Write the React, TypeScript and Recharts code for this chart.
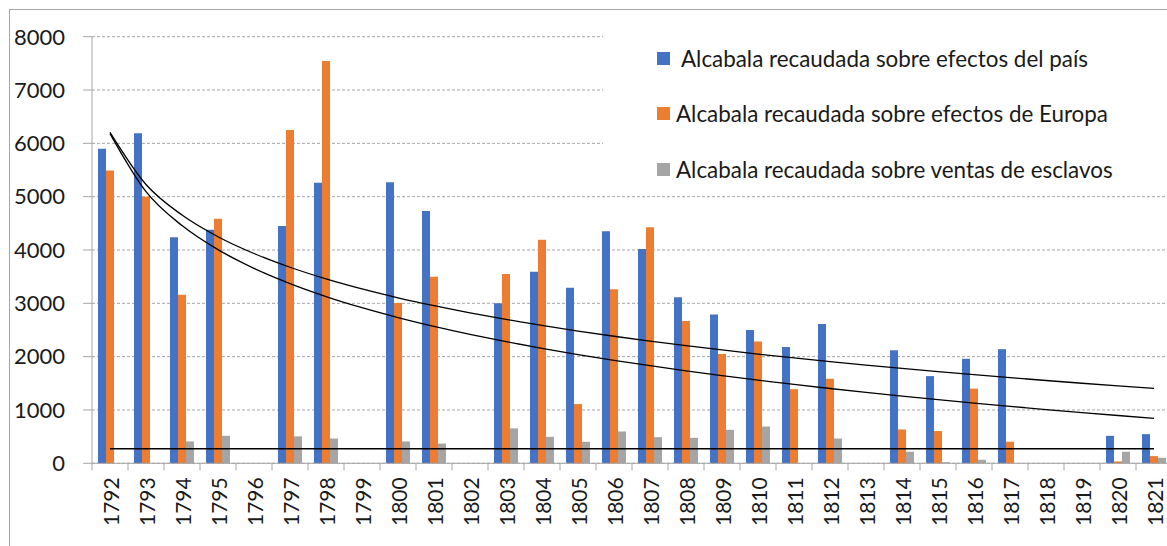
import React from 'react';
import { ComposedChart, Bar, Line, XAxis, YAxis, CartesianGrid } from 'recharts';

const years = ['1792','1793','1794','1795','1796','1797','1798','1799','1800','1801','1802','1803','1804','1805','1806','1807','1808','1809','1810','1811','1812','1813','1814','1815','1816','1817','1818','1819','1820','1821'];
const pais = [5900, 6190, 4240, 4380, 0, 4450, 5260, 0, 5270, 4730, 0, 3000, 3590, 3290, 4350, 4020, 3115, 2790, 2500, 2180, 2610, 0, 2120, 1635, 1960, 2140, 0, 0, 515, 547];
const europa = [5490, 5000, 3160, 4585, 0, 6250, 7545, 0, 3005, 3500, 0, 3550, 4190, 1110, 3265, 4425, 2670, 2050, 2285, 1390, 1585, 0, 635, 605, 1400, 405, 0, 0, 35, 135];
const esclavos = [0, 0, 410, 515, 0, 505, 465, 0, 410, 370, 0, 655, 497, 403, 597, 490, 478, 628, 690, 0, 465, 0, 216, 20, 66, 0, 0, 0, 216, 103];
const seriesNames = [' Alcabala recaudada sobre efectos del país', 'Alcabala recaudada sobre efectos de Europa', 'Alcabala recaudada sobre ventas de esclavos'];
const seriesColors = ['#4472C4', '#ED7D31', '#A5A5A5'];
const yTicks = [0, 1000, 2000, 3000, 4000, 5000, 6000, 7000, 8000];

// Trendlines derived from the data (blanks counted as zero)
function fit(xs: number[], ys: number[]) {
  const n = xs.length;
  const mx = xs.reduce((a, b) => a + b, 0) / n;
  const my = ys.reduce((a, b) => a + b, 0) / n;
  let sxy = 0, sxx = 0;
  for (let i = 0; i < n; i++) { sxy += (xs[i] - mx) * (ys[i] - my); sxx += (xs[i] - mx) ** 2; }
  const slope = sxy / sxx;
  return { slope, intercept: my - slope * mx };
}
const idx = years.map((_, i) => i + 1);
const logIdx = idx.map((v) => Math.log(v));
const fPais = fit(logIdx, pais);
const fEuropa = fit(logIdx, europa);
const meanEsclavos = esclavos.reduce((a, b) => a + b, 0) / esclavos.length;

const data = years.map((year, i) => ({
  year,
  pais: pais[i],
  europa: europa[i],
  esclavos: esclavos[i],
  trendPais: fPais.intercept + fPais.slope * logIdx[i],
  trendEuropa: fEuropa.intercept + fEuropa.slope * logIdx[i],
  trendEsclavos: meanEsclavos,
}));

const CHART_W = 1164;
const CHART_H = 546;
const Y_AXIS_W = 84;
const PLOT_W = CHART_W - Y_AXIS_W;
const BAND = PLOT_W / years.length;
const GREY = '#a6a6a6';
const FONT = 'Lato, "Open Sans", sans-serif';

function XTick(props: any) {
  const { x, y, payload, index } = props;
  const ty = y + 14;
  return (
    <g>
      <line x1={x - BAND / 2} y1={y} x2={x - BAND / 2} y2={y + 7} stroke={GREY} strokeWidth={1} />
      {index === years.length - 1 && (
        <line x1={x + BAND / 2} y1={y} x2={x + BAND / 2} y2={y + 7} stroke={GREY} strokeWidth={1} />
      )}
      <text
        x={x + 1}
        y={ty}
        transform={`rotate(-90 ${x + 1} ${ty})`}
        textAnchor="end"
        dominantBaseline="central"
        fontSize={21}
        fontFamily={FONT}
        fill="#1a1a1a"
      >
        {payload.value}
      </text>
    </g>
  );
}

export default function App() {
  return (
    <div style={{ position: 'fixed', left: 8, top: 8, width: 1159, height: 538, overflow: 'hidden', background: '#fff' }}>
      <div style={{ position: 'absolute', left: 1, top: 1, right: 0, bottom: 0, borderTop: `1px solid ${GREY}`, borderLeft: `1px solid ${GREY}` }} />
      <div style={{ position: 'absolute', left: 0, top: 0 }}>
        <ComposedChart
          width={CHART_W}
          height={CHART_H}
          data={data}
          margin={{ top: 28.7, right: 0, left: 0, bottom: 0 }}
          barGap={0}
          barSize={8}
        >
          <CartesianGrid vertical={false} stroke={GREY} strokeDasharray="3 2" />
          <XAxis
            dataKey="year"
            interval={0}
            height={CHART_H - 455.3}
            axisLine={{ stroke: GREY }}
            tickLine={false}
            tickSize={0}
            tickMargin={0}
            tick={<XTick />}
          />
          <YAxis
            width={Y_AXIS_W}
            domain={[0, 8000]}
            ticks={yTicks}
            interval={0}
            axisLine={{ stroke: GREY }}
            tickLine={{ stroke: GREY }}
            tickSize={9}
            tickMargin={18}
            tick={{ fontSize: 22, fontFamily: FONT, fill: '#1a1a1a' }}
          />
          <Bar dataKey="pais" name={seriesNames[0]} fill={seriesColors[0]} isAnimationActive={false} />
          <Bar dataKey="europa" name={seriesNames[1]} fill={seriesColors[1]} isAnimationActive={false} />
          <Bar dataKey="esclavos" name={seriesNames[2]} fill={seriesColors[2]} isAnimationActive={false} />
          <Line dataKey="trendPais" type="monotone" stroke="#000" strokeWidth={1.3} dot={false} activeDot={false} isAnimationActive={false} legendType="none" />
          <Line dataKey="trendEuropa" type="monotone" stroke="#000" strokeWidth={1.3} dot={false} activeDot={false} isAnimationActive={false} legendType="none" />
          <Line dataKey="trendEsclavos" type="linear" stroke="#000" strokeWidth={1.3} dot={false} activeDot={false} isAnimationActive={false} legendType="none" />
        </ComposedChart>
      </div>
      <div style={{ position: 'absolute', left: 595, top: 17, width: 562, height: 160, background: '#fff', fontFamily: FONT }}>
        {seriesNames.map((name, i) => (
          <div
            key={name}
            style={{ position: 'absolute', left: 54, top: 33 + i * 55.5 - 15, height: 30, display: 'flex', alignItems: 'center', whiteSpace: 'pre' }}
          >
            <span style={{ display: 'inline-block', width: 13, height: 13, background: seriesColors[i], marginRight: 6 }} />
            <span style={{ fontSize: 22.4, color: '#1a1a1a' }}>{name}</span>
          </div>
        ))}
      </div>
    </div>
  );
}
